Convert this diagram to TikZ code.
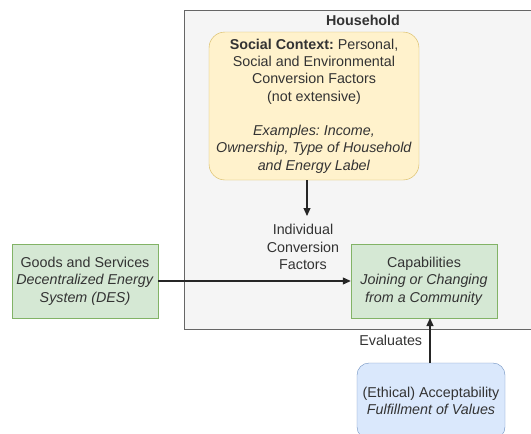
\documentclass[tikz,border=0pt]{standalone}
\usepackage{fontspec}
\setmainfont{Liberation Sans}
\usetikzlibrary{positioning,arrows.meta}
\definecolor{yellowfill}{HTML}{FFF2CC}
\definecolor{yellowline}{HTML}{D6B656}
\definecolor{greenfill}{HTML}{D5E8D4}
\definecolor{greenline}{HTML}{82B366}
\definecolor{bluefill}{HTML}{DAE8FC}
\definecolor{blueline}{HTML}{6C8EBF}
\definecolor{grayfill}{HTML}{F5F5F5}
\definecolor{grayline}{HTML}{666666}
\definecolor{textgray}{HTML}{333333}
\frenchspacing

\begin{document}
\begin{tikzpicture}[x=1pt,y=-1pt,>={Triangle[length=8pt,width=7pt]},
    font=\fontsize{14.3}{17.3}\selectfont,text=textgray,
    factor/.style={draw=yellowline,fill=yellowfill,rounded corners=16pt,
        minimum width=210pt,minimum height=148pt,align=center,inner sep=1pt},
    resource/.style={draw=greenline,fill=greenfill,
        minimum width=146pt,minimum height=74pt,align=center,inner sep=1pt},
    value/.style={draw=blueline,fill=bluefill,rounded corners=12pt,
        minimum width=148pt,minimum height=76pt,align=center,inner sep=1pt},
    flow/.style={->,draw=black!85,line width=1.1pt}]
   \useasboundingbox (0,0) rectangle (531,434);
   \clip (0,0) rectangle (531,434);
   % household container
   \draw[grayline,fill=grayfill,line width=0.9pt] (184,10) rectangle (545,329);
   \node (household) at (363,20) {\textbf{Household}};
   \node[factor] (social) at (314,106) {\textbf{Social Context:} Personal,\\
      Social and Environmental\\ Conversion Factors\\ (not extensive)\\[17pt]
      \textit{Examples: Income,}\\ \textit{Ownership, Type of Household}\\
      \textit{and Energy Label}};
   \node[resource] (goods) at (85,281) {Goods and Services\\
      \textit{Decentralized Energy}\\ \textit{System (DES)}};
   \node[resource] (capab) at (424,281) {Capabilities\\
      \textit{Joining or Changing}\\ \textit{from a Community}};
   \node[value] (accept) at (431,401) {(Ethical) Acceptability\\
      \textit{Fulfillment of Values}};
   \node[align=center] (factors) at (303,247) {Individual\\ Conversion\\ Factors};
   \coordinate (factorsin) at (307,216);
   \coordinate (evalfrom) at (430,363);
   \coordinate (evalto) at (430,318);
   \path (social.south -| factorsin) edge[flow] (factorsin)
         (goods) edge[flow] (capab)
         (evalfrom) edge[flow] node[left=4pt,text=textgray] {Evaluates} (evalto);
\end{tikzpicture}
\end{document}
